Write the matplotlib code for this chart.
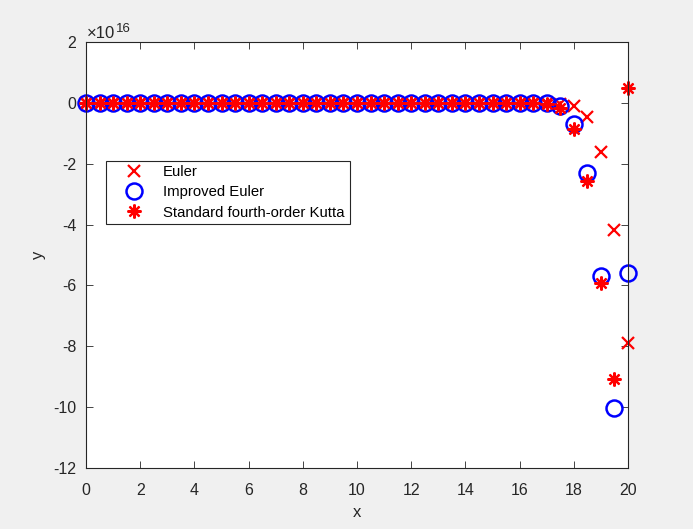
import numpy as np
import matplotlib
matplotlib.use("Agg")
import matplotlib.pyplot as plt
from matplotlib.ticker import FuncFormatter

plt.rcParams['font.family'] = ['Liberation Sans', 'DejaVu Sans']
plt.rcParams['axes.unicode_minus'] = False

x = np.arange(0, 20.5, 0.5)
scale = 1e16

euler = [0.0, 0.0, 0.0, 0.0, 0.0, 0.0, 0.0, 0.0, 0.0, 0.0,
         0.0, 0.0, 0.0, 0.0, 0.0, 0.0, 0.0, 0.0, 0.0, 0.0,
         0.0, 0.0, 0.0, 0.0, 0.0, 0.0, 0.0, 0.0, 0.0, 0.0,
         0.0, 0.0, 0.0, -0.005, -0.01, -0.03, -0.10, -0.47, -1.62, -4.17,
         -7.88]
improved = [0.0, 0.0, 0.0, 0.0, 0.0, 0.0, 0.0, 0.0, 0.0, 0.0,
            0.0, 0.0, 0.0, 0.0, 0.0, 0.0, 0.0, 0.0, 0.0, 0.0,
            0.0, 0.0, 0.0, 0.0, 0.0, 0.0, 0.0, 0.0, 0.0, 0.0,
            0.0, 0.0, 0.0, -0.005, -0.02, -0.09, -0.70, -2.31, -5.70, -10.03,
            -5.58]
rk4 = [0.0, 0.0, 0.0, 0.0, 0.0, 0.0, 0.0, 0.0, 0.0, 0.0,
       0.0, 0.0, 0.0, 0.0, 0.0, 0.0, 0.0, 0.0, 0.0, 0.0,
       0.0, 0.0, 0.0, 0.0, 0.0, 0.0, 0.0, 0.0, 0.0, 0.0,
       0.0, 0.0, 0.0, -0.005, -0.03, -0.17, -0.85, -2.58, -5.93, -9.08,
       0.50]
labels = ['Euler', 'Improved Euler', 'Standard fourth-order Kutta']

euler = np.array(euler) * scale
improved = np.array(improved) * scale
rk4 = np.array(rk4) * scale

fig = plt.figure(figsize=(6.93, 5.29), dpi=100, facecolor='#f0f0f0')
ax = fig.add_axes([86/693, 1 - 468/529, (628-86)/693, (468-42)/529])
ax.set_facecolor('white')

ax.plot(x, euler, linestyle='none', marker='x', color='red', markersize=8, mew=1.6,
        label=labels[0], clip_on=False)
ax.plot(x, improved, linestyle='none', marker='o', mfc='none', mec='blue', markersize=11.5,
        mew=1.8, label=labels[1], clip_on=False)
ax.plot(x, rk4, linestyle='none', marker=(8, 2, 0), color='red', mec='red', markersize=10,
        mew=1.6, label=labels[2], clip_on=False)

ax.set_xlim(0, 20)
ax.set_ylim(-12e16, 2e16)
ax.set_xticks(np.arange(0, 21, 2))
ax.set_yticks(np.arange(-12e16, 2.1e16, 2e16))
ax.yaxis.set_major_formatter(FuncFormatter(lambda v, p: '%g' % round(v / scale, 6)))

tc = '#262626'
ax.tick_params(direction='in', length=5, width=0.6, labelsize=11.5, labelcolor=tc,
               top=True, right=True, colors=tc)
ax.tick_params(axis='x', pad=11)
ax.tick_params(axis='y', pad=7)
for s in ax.spines.values():
    s.set_linewidth(0.8)
    s.set_color(tc)

# exponent label like MATLAB
fig.text(87/693, 1 - 37.5/529, '\u00d710', fontsize=12, color=tc, ha='left', va='baseline')
fig.text(116/693, 1 - 31.5/529, '16', fontsize=9.5, color=tc, ha='left', va='baseline')

ax.set_xlabel('x', fontsize=12, color=tc, labelpad=5)
ax.set_ylabel('y', fontsize=12, color=tc, labelpad=5)

leg = ax.legend(loc='upper left', bbox_to_anchor=((105.5-86)/542, (468-160.5)/426),
                fontsize=10.7, frameon=True, fancybox=False, edgecolor=tc,
                facecolor='white', framealpha=1, borderpad=0.33, handlelength=3.2,
                handletextpad=0.35, labelspacing=0.41, borderaxespad=0)
leg.get_frame().set_linewidth(0.8)

fig.savefig('out.png', dpi=100, facecolor=fig.get_facecolor())
